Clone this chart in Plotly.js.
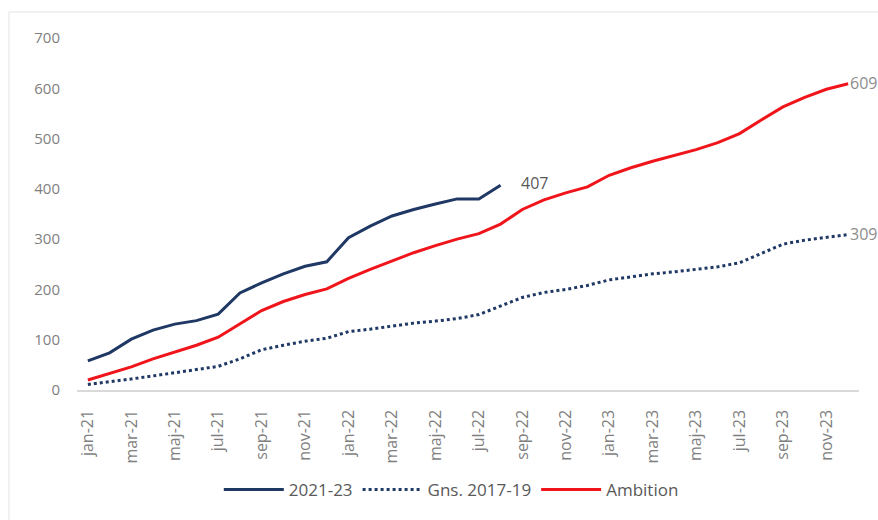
<!DOCTYPE html>
<html>
<head>
<meta charset="utf-8">
<script src="https://cdn.plot.ly/plotly-3.0.1.min.js"></script>
<style>html,body{margin:0;padding:0;background:#fff;}#chart{width:878px;height:520px;}</style>
</head>
<body>
<div id="chart"></div>
<script>
const months = [
  "jan-21","feb-21","mar-21","apr-21","maj-21","jun-21","jul-21","aug-21","sep-21","okt-21","nov-21","dec-21",
  "jan-22","feb-22","mar-22","apr-22","maj-22","jun-22","jul-22","aug-22","sep-22","okt-22","nov-22","dec-22",
  "jan-23","feb-23","mar-23","apr-23","maj-23","jun-23","jul-23","aug-23","sep-23","okt-23","nov-23","dec-23"
];
const actual2123 = [58,74,101,119,131,138,151,193,213,231,246,255,303,326,346,359,370,380,380,407];
const avg1719 = [11,16,22,28,34,40,47,62,80,89,97,103,116,121,127,133,137,142,150,167,184,194,200,208,219,225,231,235,240,245,253,272,290,298,304,309];
const ambition = [20,33,46,62,76,89,105,132,158,176,190,201,222,240,256,273,287,300,311,330,359,378,392,404,427,442,455,466,478,492,510,537,563,582,598,609];
const seriesNames = ["2021-23","Gns. 2017-19","Ambition"];

const navy = "#1F3864";
const red = "#F0141B";
const fontFam = "'Open Sans', sans-serif";

const traces = [
  {x: months.slice(0, actual2123.length), y: actual2123, name: seriesNames[0], type: "scatter", mode: "lines",
   line: {color: navy, width: 3}},
  {x: months, y: avg1719, name: seriesNames[1], type: "scatter", mode: "lines",
   line: {color: navy, width: 3, dash: "dot"}},
  {x: months, y: ambition, name: seriesNames[2], type: "scatter", mode: "lines",
   line: {color: red, width: 3}}
];

const lastA = actual2123.length - 1;
const layout = {
  width: 878, height: 520,
  margin: {l: 77, r: 19, t: 38, b: 130},
  paper_bgcolor: "#fff", plot_bgcolor: "#fff",
  showlegend: true,
  legend: {orientation: "h", xref: "container", yref: "container", x: 0.514, xanchor: "center",
           y: 0.058, yanchor: "middle", font: {family: fontFam, size: 17, color: "#595959"},
           itemwidth: 60, traceorder: "normal", tracegroupgap: 0},
  xaxis: {type: "category", categoryorder: "array", categoryarray: months, range: [-0.5, 35.5],
          dtick: 2, tick0: 0, tickangle: -90, showgrid: false, zeroline: false,
          showline: true, linecolor: "#D9D9D9", linewidth: 1.5, ticks: "",
          ticklabelstandoff: 12,
          tickfont: {family: fontFam, size: 16, color: "#7F7F7F"}},
  yaxis: {range: [0, 700], dtick: 100, tick0: 0, showgrid: false, zeroline: false, showline: false,
          ticks: "", ticklabelstandoff: 16,
          tickfont: {family: fontFam, size: 15, color: "#7F7F7F"}},
  annotations: [
    {x: months[lastA], y: actual2123[lastA], text: String(actual2123[lastA]), showarrow: false,
     xanchor: "left", xshift: 18, yshift: 2, font: {family: fontFam, size: 16, color: "#595959"}},
    {x: months[months.length-1], y: ambition[ambition.length-1], text: String(ambition[ambition.length-1]), showarrow: false,
     xanchor: "left", xshift: 0, yshift: 1, font: {family: fontFam, size: 16, color: "#8C8C8C"}},
    {x: months[months.length-1], y: avg1719[avg1719.length-1], text: String(avg1719[avg1719.length-1]), showarrow: false,
     xanchor: "left", xshift: 0, yshift: 1, font: {family: fontFam, size: 16, color: "#8C8C8C"}}
  ],
  shapes: [
    {type: "line", xref: "paper", yref: "paper", x0: -0.087, x1: 1.03, y0: 1.074, y1: 1.074,
     line: {color: "#E3E3E3", width: 1}},
    {type: "line", xref: "paper", yref: "paper", x0: -0.087, x1: -0.087, y0: 1.074, y1: -0.4,
     line: {color: "#E3E3E3", width: 1}}
  ]
};

Plotly.newPlot("chart", traces, layout, {displayModeBar: false, staticPlot: true});
</script>
</body>
</html>
